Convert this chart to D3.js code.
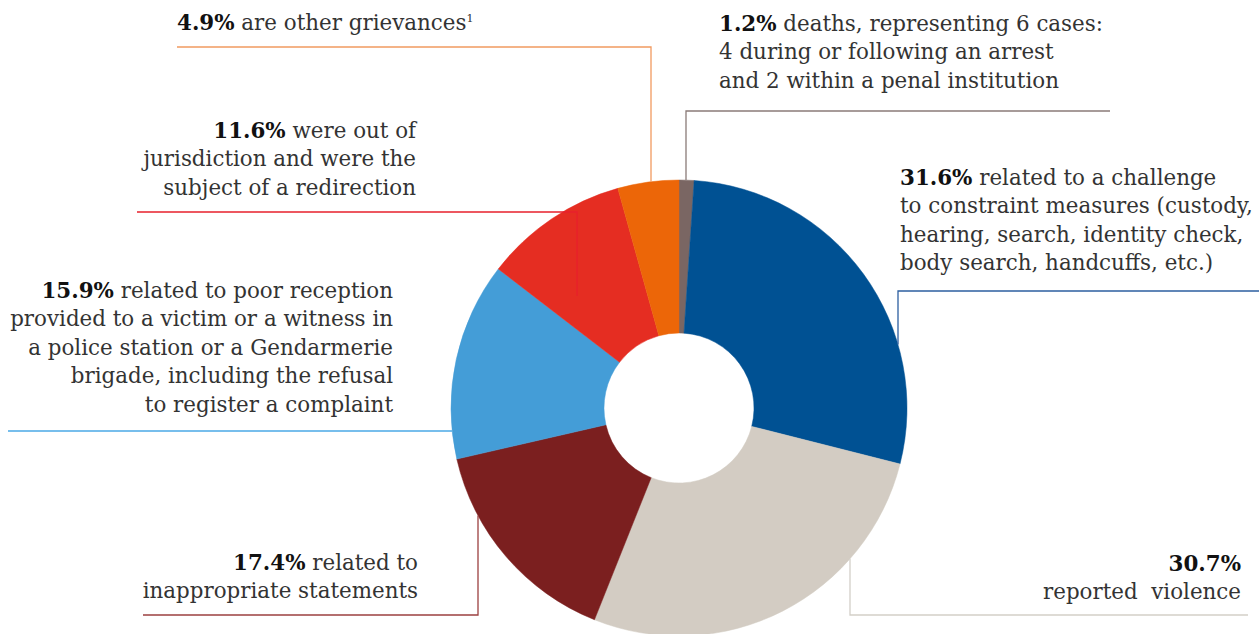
<!DOCTYPE html>
<html>
<head>
<meta charset="utf-8">
<script src="https://cdn.jsdelivr.net/npm/d3@7"></script>
<style>
  html, body { margin: 0; padding: 0; background: #fff; }
  svg { display: block; }
  text { font-family: "DejaVu Serif", serif; fill: #333; white-space: pre; }
  .pct { font-weight: bold; fill: #111; }
</style>
</head>
<body>
<div id="chart"></div>
<script>
// slices, clockwise from 12 o'clock
var categories = ["deaths", "constraint", "violence", "statements", "reception", "redirection", "other"];
var shares     = [1.2, 31.6, 30.7, 17.4, 15.9, 11.6, 4.9];
var sliceColors = ["#7a6663", "#005193", "#d3ccc3", "#7b1f1f", "#449dd7", "#e52d22", "#ec6608"];
var ruleColors  = ["#8a7b78", "#2d5fa0", "#d3cfc8", "#9c4040", "#4aa8e6", "#e8202c", "#f19a60"];

// label text: bold share first, then the text lines
var labelLines = [
  ["deaths, representing 6 cases:", "4 during or following an arrest", "and 2 within a penal institution"],
  ["related to a challenge", "to constraint measures (custody,", "hearing, search, identity check,", "body search, handcuffs, etc.)"],
  ["", "reported  violence"],
  ["related to", "inappropriate statements"],
  ["related to poor reception", "provided to a victim or a witness in", "a police station or a Gendarmerie", "brigade, including the refusal", "to register a complaint"],
  ["were out of", "jurisdiction and were the", "subject of a redirection"],
  ["are other grievances"]
];
var footnotes = ["", "", "", "", "", "", "1"];

var width = 1259, height = 634;
var cx = 679, cy = 408, outerR = 228, innerR = 75;
var lineH = 28.4, fontSize = 21.4;

// label placement and leader rule: horizontal at ry from rx0 to rx1, then vertical to the pie
var placement = {
  deaths:      {anchor: "start", x: 719,  y: 31,  ry: 111, rx0: 1110, rx1: 686, dir: -1, inset: 0},
  constraint:  {anchor: "start", x: 900,  y: 185, ry: 291, rx0: 1259, rx1: 898, dir: -1, inset: 0},
  violence:    {anchor: "end",   x: 1241, y: 571, ry: 615, rx0: 1248, rx1: 850, dir: 1,  inset: 0},
  statements:  {anchor: "end",   x: 418,  y: 570, ry: 615, rx0: 143,  rx1: 478, dir: 1,  inset: 0},
  reception:   {anchor: "end",   x: 393,  y: 298, ry: 431, rx0: 8,    rx1: null, dir: 0, inset: 0},
  redirection: {anchor: "end",   x: 416,  y: 138, ry: 212, rx0: 137,  rx1: 577, dir: -1, inset: 92},
  other:       {anchor: "start", x: 177,  y: 30,  ry: 47,  rx0: 177,  rx1: 651, dir: -1, inset: 0}
};

var svg = d3.select("#chart").append("svg")
    .attr("width", width)
    .attr("height", height);

var data = categories.map(function(c, i) {
  return {key: c, value: shares[i], color: sliceColors[i], rule: ruleColors[i],
          lines: labelLines[i], note: footnotes[i]};
});

var pie = d3.pie().sort(null).value(function(d) { return d.value; });
var arc = d3.arc().innerRadius(innerR).outerRadius(outerR);

var g = svg.append("g").attr("transform", "translate(" + cx + "," + cy + ")");

g.selectAll("path.slice")
  .data(pie(data))
  .enter().append("path")
    .attr("class", "slice")
    .attr("d", arc)
    .style("fill", function(d) { return d.data.color; })
    .style("stroke", function(d) { return d.data.color; })
    .style("stroke-width", 0.5);

// pie edge height at a given x
function edgeY(x, dir) {
  var dx = x - cx;
  return cy + dir * Math.sqrt(Math.max(0, outerR * outerR - dx * dx));
}

// leader rules
data.forEach(function(d) {
  var p = placement[d.key];
  var pts;
  if (p.dir === 0) {
    var dy = p.ry - cy;
    var ex = cx - Math.sqrt(outerR * outerR - dy * dy);
    pts = [[p.rx0, p.ry], [ex, p.ry]];
  } else {
    var ey = edgeY(p.rx1, p.dir) - p.dir * p.inset;
    pts = [[p.rx0, p.ry], [p.rx1, p.ry], [p.rx1, ey]];
  }
  svg.append("path")
    .attr("d", d3.line()(pts))
    .style("fill", "none")
    .style("stroke", d.rule)
    .style("stroke-width", 1.3);
});

// labels
data.forEach(function(d) {
  var p = placement[d.key];
  var t = svg.append("text")
    .attr("text-anchor", p.anchor)
    .style("font-size", fontSize + "px");
  d.lines.forEach(function(line, i) {
    var row = t.append("tspan").attr("x", p.x).attr("y", p.y + i * lineH);
    if (i === 0) {
      row.append("tspan").attr("class", "pct").text(d3.format(".1f")(d.value) + "%");
      if (line) row.append("tspan").text(" " + line);
    } else {
      row.text(line);
    }
    if (i === d.lines.length - 1 && d.note) {
      row.append("tspan").attr("dy", -8).style("font-size", "11px").text(d.note);
    }
  });
});
</script>
</body>
</html>
